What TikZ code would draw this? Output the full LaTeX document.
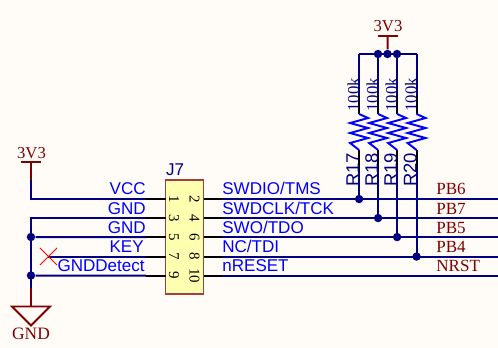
\documentclass[tikz,border=0pt]{standalone}
\usepackage{fontspec}
\setmainfont{Liberation Serif}
\setsansfont{Liberation Sans}
\usepackage{xcolor}
\definecolor{paper}{HTML}{FFFCF8}
\definecolor{netblue}{HTML}{000080}
\definecolor{txtblue}{HTML}{0000FF}
\definecolor{portred}{HTML}{800000}
\definecolor{boxfill}{HTML}{FFFFB0}
\definecolor{boxedge}{HTML}{A04040}
\tikzset{wire/.style={netblue,line width=1.1pt,line join=miter}}
\tikzset{stub/.style={black,line width=1.1pt}}
\tikzset{port/.style={portred,line width=1.1pt}}
\tikzset{junction/.style={circle,fill=netblue,inner sep=0pt,minimum size=4.8pt}}
\tikzset{conn/.style={draw=boxedge,fill=boxfill,line width=0.8pt,inner sep=0pt,outer sep=0pt,minimum width=0.76cm,minimum height=2.28cm}}
\tikzset{pinlabel/.style={font=\rmfamily\fontsize{8.5}{8.5}\selectfont,rotate=-90,inner sep=0pt}}
\tikzset{signame/.style={font=\sffamily\fontsize{9.7}{10}\selectfont,txtblue,inner sep=0pt}}
\tikzset{netname/.style={font=\rmfamily\fontsize{9.7}{10}\selectfont,portred,inner sep=0pt,anchor=base west}}
\tikzset{valname/.style={font=\rmfamily\fontsize{9.5}{10}\selectfont,netblue,rotate=90,inner sep=0pt,anchor=base west}}
\tikzset{refname/.style={font=\sffamily\fontsize{10.5}{11}\selectfont,netblue,rotate=90,inner sep=0pt,anchor=base west}}
\begin{document}
\begin{tikzpicture}[xscale=0.02,yscale=-0.02]
    \useasboundingbox (0,0) rectangle (498,348);
    \fill[paper] (0,0) rectangle (498,348);
    % connector body
    \node[conn] (J7) at (184.5,237) {};
    \node[font=\sffamily\fontsize{9.7}{10}\selectfont,netblue,inner sep=0pt,anchor=base] (J7name) at (175,176) {J7};
    % pin rows
    \foreach \row/\ypos/\lnum/\rnum in {a/199/1/2,b/218/3/4,c/237/5/6,d/256.5/7/8,e/275.5/9/10}{
        \coordinate (L\row) at (146,\ypos);
        \coordinate (R\row) at (222,\ypos);
        \coordinate (E\row) at (498,\ypos);
        \coordinate (BL\row) at (165.5,\ypos);
        \coordinate (BR\row) at (203.5,\ypos);
        \draw[stub] (L\row) -- (BL\row);
        \draw[stub] (BR\row) -- (R\row);
        \draw[wire] (R\row) -- (E\row);
        \node[pinlabel] (P\lnum) at (174,\ypos) {\lnum};
        \node[pinlabel] (P\rnum) at (194.5,\ypos) {\rnum};
    }
    % left supply
    \node[font=\rmfamily\fontsize{9.5}{10}\selectfont,portred,inner sep=0pt,anchor=base] (VCCname) at (31.5,159) {3V3};
    \coordinate (VCCbar) at (31,162);
    \coordinate (VCCend) at (31,180);
    \coordinate (VCCa) at (21,162);
    \coordinate (VCCb) at (41,162);
    \coordinate (VCCk) at (31,199);
    \draw[port] (VCCa) -- (VCCb);
    \draw[port] (VCCbar) -- (VCCend);
    \draw[wire] (VCCend) -- (VCCk) -- (La);
    % left ground
    \coordinate (GNDk) at (31,218);
    \node[junction] (J1) at (31,237) {};
    \node[junction] (J2) at (31,275.5) {};
    \coordinate (GNDend) at (31,288);
    \coordinate (GNDtop) at (31,306.5);
    \draw[wire] (Lb) -- (GNDk) -- (GNDend);
    \draw[wire] (J1) -- (Lc);
    \draw[wire] (J2) -- (Le);
    \draw[port] (GNDend) -- (GNDtop);
    \draw[port,line join=miter] (12,306.5) -- (50,306.5) -- (31,325.5) -- cycle;
    \node[font=\rmfamily\fontsize{9.9}{10}\selectfont,portred,inner sep=0pt,anchor=base] (GNDname) at (31,340) {GND};
    % no connect
    \coordinate (NC) at (48,256.5);
    \draw[wire] (NC) -- (Ld);
    \draw[red,line width=0.5pt] (40,248) -- (57,265);
    \draw[red,line width=0.5pt] (40,265) -- (57,248);
    % left signal names
    \node[signame,anchor=base east] (S1) at (146,195) {VCC};
    \node[signame,anchor=base east] (S3) at (146,214.5) {GND};
    \node[signame,anchor=base east] (S5) at (146,233.5) {GND};
    \node[signame,anchor=base east] (S7) at (144,252.5) {KEY};
    \node[signame,anchor=base east] (S9) at (145,271.5) {GNDDetect};
    % right signal names
    \node[signame,anchor=base west] (S2) at (222,195) {SWDIO/TMS};
    \node[signame,anchor=base west] (S4) at (222,214.5) {SWDCLK/TCK};
    \node[signame,anchor=base west] (S6) at (222,233.5) {SWO/TDO};
    \node[signame,anchor=base west] (S8) at (222,252.5) {NC/TDI};
    \node[signame,anchor=base west] (S10) at (222,271.5) {nRESET};
    % net names
    \node[netname] (PB6) at (436,195) {PB6};
    \node[netname] (PB7) at (436,214.5) {PB7};
    \node[netname] (PB5) at (436,233.5) {PB5};
    \node[netname] (PB4) at (436,252.5) {PB4};
    \node[netname] (NRST) at (436,272) {NRST};
    % top supply
    \node[font=\rmfamily\fontsize{9.5}{10}\selectfont,portred,inner sep=0pt,anchor=base] (TOPname) at (388,32) {3V3};
    \coordinate (TOPbar) at (387.5,36);
    \coordinate (TOPa) at (378,36);
    \coordinate (TOPb) at (398,36);
    \draw[port] (TOPa) -- (TOPb);
    \node[junction] (Jt2) at (387.5,54) {};
    \draw[port] (TOPbar) -- (Jt2);
    \coordinate (TOPl) at (359,54);
    \coordinate (TOPr) at (416.5,54);
    \draw[wire] (TOPl) -- (TOPr);
    \node[junction] (Jt1) at (378,54) {};
    \node[junction] (Jt3) at (397,54) {};
    % pull-up resistors
    \foreach \xpos/\rname/\yend in {359/R17/199,378/R18/218,397/R19/237,416.5/R20/256.5}{
        \coordinate (\rname top) at (\xpos,54);
        \coordinate (\rname a) at (\xpos,95);
        \coordinate (\rname b) at (\xpos,114);
        \coordinate (\rname c) at (\xpos,150);
        \coordinate (\rname d) at (\xpos,170);
        \coordinate (\rname e) at (\xpos,\yend);
        \draw[wire] (\rname top) -- (\rname a);
        \draw[stub] (\rname a) -- (\rname b);
        \draw[stub] (\rname c) -- (\rname d);
        \draw[wire] (\rname d) -- (\rname e);
        \draw[txtblue,line width=1.1pt] (\rname b) -- ++(9,4) -- ++(-18,5) -- ++(18,5) -- ++(-18,5) -- ++(18,5) -- ++(-18,5) -- (\rname c);
        \node[junction] (\rname j) at (\rname e) {};
        \node[valname] (\rname val) at ([xshift=-0.07cm]\rname a |- 0,112) {100k};
        \node[refname] (\rname ref) at ([xshift=-0.04cm]\rname a |- 0,187) {\rname};
    }
\end{tikzpicture}
\end{document}
